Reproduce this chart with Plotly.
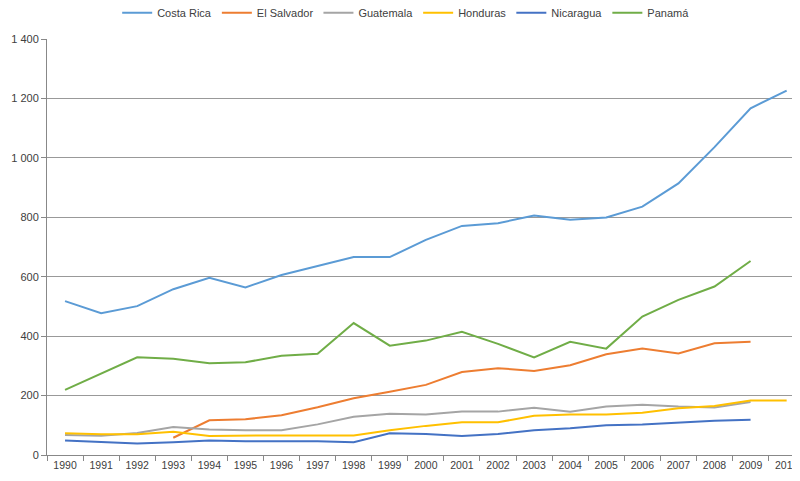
import plotly.graph_objects as go

years = [str(y) for y in range(1990, 2011)]

costa_rica = [518, 477, 501, 558, 596, 564, 606, 637, 666, 666, 724, 771, 780, 806, 792, 799, 836, 914, 1036, 1167, 1226]
el_salvador = [None, None, None, 58, 117, 120, 134, 161, 191, 213, 236, 279, 292, 283, 302, 339, 358, 342, 376, 381, None]
guatemala = [67, 65, 74, 94, 86, 83, 83, 103, 129, 139, 136, 146, 146, 159, 146, 163, 169, 163, 160, 178, None]
honduras = [73, 70, 70, 78, 64, 66, 66, 66, 66, 83, 98, 110, 110, 132, 136, 136, 142, 157, 165, 183, 183]
nicaragua = [49, 43, 39, 43, 49, 46, 46, 46, 43, 73, 71, 64, 71, 83, 90, 100, 103, 110, 115, 119, None]
panama = [219, 273, 329, 324, 309, 312, 334, 341, 444, 368, 385, 415, 374, 328, 381, 358, 466, 522, 567, 653, None]

series = [
    ("Costa Rica", costa_rica, "#5B9BD5"),
    ("El Salvador", el_salvador, "#ED7D31"),
    ("Guatemala", guatemala, "#A5A5A5"),
    ("Honduras", honduras, "#FFC000"),
    ("Nicaragua", nicaragua, "#4472C4"),
    ("Panamá", panama, "#70AD47"),
]

y_ticks = [0, 200, 400, 600, 800, 1000, 1200, 1400]
y_labels = ["0", "200", "400", "600", "800", "1 000", "1 200", "1 400"]

fig = go.Figure()
for name, values, color in series:
    fig.add_scatter(
        x=years,
        y=values,
        name=name,
        mode="lines",
        line={"color": color, "width": 2},
        connectgaps=False,
    )

# the page adds an 8px body margin, so the figure is 16px smaller than the window
fig.update_layout(
    width=792,
    height=473,
    margin={"l": 39, "r": 0, "t": 31, "b": 26, "autoexpand": False},
    plot_bgcolor="white",
    paper_bgcolor="white",
    font={"family": "Liberation Sans", "size": 11, "color": "#404040"},
    showlegend=True,
    legend={
        "orientation": "h",
        "x": 0.477,
        "xanchor": "center",
        "y": 0.99,
        "yanchor": "middle",
        "yref": "container",
        "font": {"size": 11},
        "itemwidth": 30,
    },
    xaxis={
        "type": "category",
        "range": [-0.5, 20.37],
        "tickson": "boundaries",
        "ticks": "outside",
        "ticklen": 5,
        "tickcolor": "#888888",
        "showline": True,
        "linecolor": "#888888",
        "showgrid": False,
        "automargin": False,
        "ticklabeloverflow": "allow",
        "tickfont": {"size": 10.5},
    },
    yaxis={
        "range": [0, 1400],
        "tickvals": y_ticks,
        "ticktext": y_labels,
        "ticks": "outside",
        "ticklen": 5,
        "tickcolor": "#888888",
        "showline": True,
        "linecolor": "#888888",
        "showgrid": True,
        "gridcolor": "#999999",
        "zeroline": False,
        "automargin": False,
        "tickfont": {"size": 11},
    },
)

fig.write_html("out.html")
